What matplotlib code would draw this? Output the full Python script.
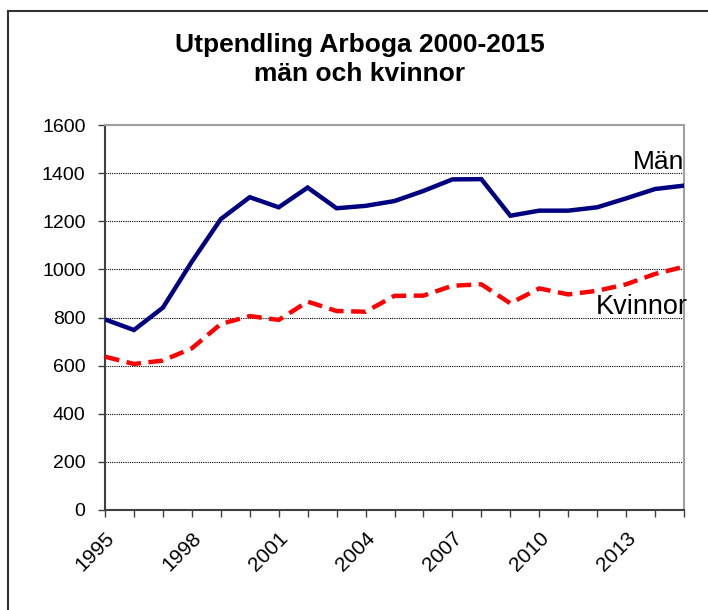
import numpy as np
import matplotlib
matplotlib.use('Agg')
import matplotlib.pyplot as plt
from matplotlib.lines import Line2D

# utpendling per år
ar = list(range(1995, 2016))
man = [792, 748, 841, 1032, 1209, 1300, 1258, 1340, 1254, 1264, 1284,
       1326, 1374, 1375, 1223, 1244, 1244, 1258, 1295, 1334, 1348]
kvinnor = [637, 607, 621, 672, 773, 806, 790, 866, 827, 824, 890,
           891, 932, 938, 859, 921, 896, 911, 938, 981, 1011]
etiketter = [str(a) if (a - 1995) % 3 == 0 else '' for a in ar]

plt.rcParams['font.family'] = ['Liberation Sans', 'DejaVu Sans']

W, H = 708, 610
fig = plt.figure(figsize=(W / 100, H / 100), dpi=100)

# ram runt diagrammet
fig.add_artist(Line2D([8 / W, 8 / W], [0, 1 - 11 / H], color='#333333', lw=1.5))
fig.add_artist(Line2D([8 / W, 1], [1 - 11 / H, 1 - 11 / H], color='#333333', lw=1.5))

ax = fig.add_axes([105 / W, 100 / H, (684 - 105) / W, (510 - 125) / H])

ax.plot(ar, man, color='#000080', lw=3.2, solid_joinstyle='miter', zorder=3)
ax.plot(ar, kvinnor, color='#ff0000', lw=3.2, dashes=(3.3, 1.7), zorder=3)

ax.set_xlim(1995, 2015)
ax.set_ylim(0, 1600)
ax.set_yticks(np.arange(0, 1601, 200))
ax.set_xticks(ar)
ax.set_xticklabels(etiketter, rotation=45, ha='right', rotation_mode='anchor', fontsize=15)
ax.tick_params(axis='y', labelsize=14, length=5, width=1, color='#404040', pad=9)
ax.tick_params(axis='x', length=5, width=1, color='#404040', pad=8)

ax.yaxis.grid(True, linestyle=(0, (1, 1)), color='black', lw=0.8)
ax.set_axisbelow(True)

for s in ['left', 'bottom']:
    ax.spines[s].set_color('#404040')
    ax.spines[s].set_linewidth(1.5)
for s in ['top', 'right']:
    ax.spines[s].set_color('#a0a0a0')
    ax.spines[s].set_linewidth(1.5)

ax.text(2015, 1446, 'Män', fontsize=19, ha='right', va='center', clip_on=False)
ax.text(2013.55, 844, 'Kvinnor', fontsize=19.5, ha='center', va='center', clip_on=False)

fig.text(360 / W, 1 - 45 / H, 'Utpendling Arboga 2000-2015', fontsize=19,
         fontweight='bold', ha='center', va='center')
fig.text(360 / W, 1 - 74 / H, 'män och kvinnor', fontsize=19,
         fontweight='bold', ha='center', va='center')

fig.savefig('out.png', dpi=100)
